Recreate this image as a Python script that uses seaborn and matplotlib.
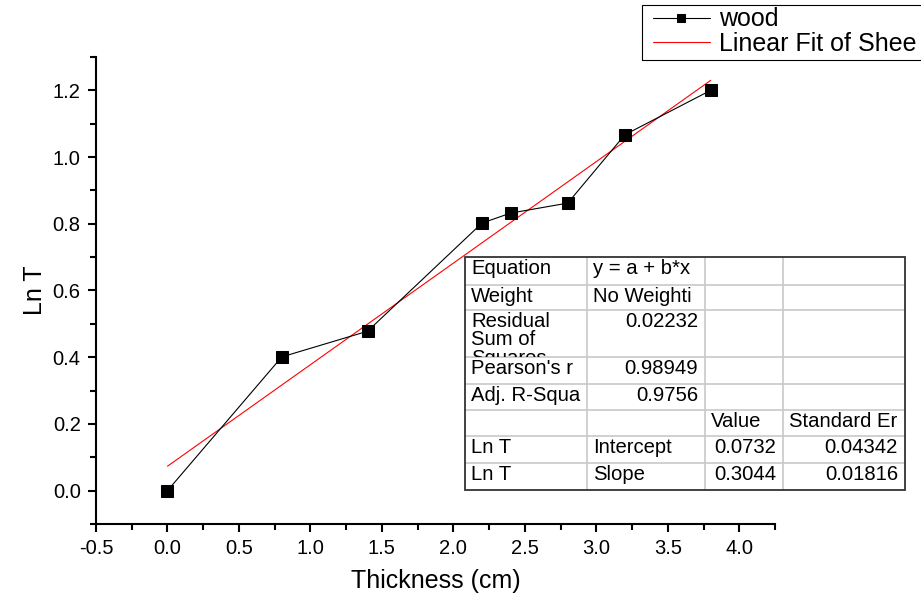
import matplotlib
matplotlib.use("Agg")
import matplotlib.pyplot as plt
import seaborn as sns
import pandas as pd
import numpy as np
from matplotlib.patches import Rectangle

thickness = [0.0, 0.8, 1.4, 2.2, 2.4, 2.8, 3.2, 3.8]
ln_t = [0.0, 0.401, 0.478, 0.802, 0.832, 0.862, 1.067, 1.200]
fit_intercept = 0.0732
fit_slope = 0.3044
fit_x = [0.0, 3.8]

table_rows = [
    ["Equation", "y = a + b*x", "", ""],
    ["Weight", "No Weighti", "", ""],
    ["Residual\nSum of\nSquares", "0.02232", "", ""],
    ["Pearson's r", "0.98949", "", ""],
    ["Adj. R-Squa", "0.9756", "", ""],
    ["", "", "Value", "Standard Er"],
    ["Ln T", "Intercept", "0.0732", "0.04342"],
    ["Ln T", "Slope", "0.3044", "0.01816"],
]

sns.set_style("ticks")
plt.rcParams['font.family'] = ['Liberation Sans', 'DejaVu Sans']

W, H = 921, 596
fig = plt.figure(figsize=(W / 100, H / 100), dpi=100)
ax = fig.add_axes([96 / W, 1 - 524 / H, (775 - 96) / W, (524 - 57) / H])

df = pd.DataFrame({"x": thickness, "y": ln_t})
fit_df = pd.DataFrame({"x": fit_x, "y": [fit_intercept + fit_slope * v for v in fit_x]})

sns.lineplot(data=fit_df, x="x", y="y", ax=ax, color="red", linewidth=0.8,
             label="Linear Fit of Shee", zorder=2)
sns.lineplot(data=df, x="x", y="y", ax=ax, color="black", linewidth=0.8,
             marker="s", markersize=8, markeredgecolor="black", markerfacecolor="black",
             label="wood", zorder=3)

ax.set_xlim(-0.5, 4.25)
ax.set_ylim(-0.1, 1.3)
ax.set_xticks(np.arange(-0.5, 4.01, 0.5))
ax.set_xticks(np.arange(-0.25, 4.26, 0.5), minor=True)
ax.set_yticks(np.arange(0.0, 1.21, 0.2))
ax.set_yticks(np.arange(-0.1, 1.31, 0.2), minor=True)
ax.xaxis.set_major_formatter(matplotlib.ticker.FormatStrFormatter("%.1f"))
ax.yaxis.set_major_formatter(matplotlib.ticker.FormatStrFormatter("%.1f"))
ax.tick_params(axis="both", which="major", direction="out", length=6, width=1.5,
               labelsize=14.5, color="black", labelcolor="black", pad=5)
ax.tick_params(axis="both", which="minor", direction="out", length=4, width=1.5, color="black")
for s in ["top", "right"]:
    ax.spines[s].set_visible(False)
for s in ["left", "bottom"]:
    ax.spines[s].set_linewidth(1.5)
    ax.spines[s].set_color("black")
ax.set_xlabel("Thickness (cm)", fontsize=18, labelpad=8, color="black")
ax.set_ylabel("Ln T", fontsize=18, labelpad=4, color="black")


def fx(px):
    return px / W


def fy(py):
    return 1 - py / H


handles, labels = ax.get_legend_handles_labels()
order = [labels.index("wood"), labels.index("Linear Fit of Shee")]
leg = ax.legend([handles[i] for i in order], [labels[i] for i in order],
                loc="upper left", bbox_to_anchor=(fx(650), fy(5)),
                bbox_transform=fig.transFigure, frameon=False,
                fontsize=18, handlelength=2.3, borderpad=0.1,
                labelspacing=0.02, handletextpad=0.35, borderaxespad=0,
                markerscale=0.8)
for t in leg.get_texts():
    t.set_color("black")
fig.add_artist(Rectangle((fx(642), fy(60)), fx(940) - fx(642), fy(5) - fy(60),
                         transform=fig.transFigure, fill=False, edgecolor="black",
                         linewidth=0.8, zorder=4))

# Fit result table drawn in figure pixel coordinates
col_x = [465, 587, 705, 783, 905]
row_y = [257, 285, 310, 357, 384, 410, 436, 463, 490]

fig.add_artist(Rectangle((fx(col_x[0]), fy(row_y[-1])), fx(col_x[-1]) - fx(col_x[0]),
                         fy(row_y[0]) - fy(row_y[-1]), transform=fig.transFigure,
                         fill=True, facecolor="white", edgecolor="none", zorder=5))
for xi in col_x[1:-1]:
    fig.add_artist(plt.Line2D([fx(xi), fx(xi)], [fy(row_y[0]), fy(row_y[-1])],
                              color="#c8c8c8", linewidth=1.2, transform=fig.transFigure,
                              zorder=6))
for yi in row_y[1:-1]:
    fig.add_artist(plt.Line2D([fx(col_x[0]), fx(col_x[-1])], [fy(yi), fy(yi)],
                              color="#c8c8c8", linewidth=1.2, transform=fig.transFigure,
                              zorder=6))
fig.add_artist(Rectangle((fx(col_x[0]), fy(row_y[-1])), fx(col_x[-1]) - fx(col_x[0]),
                         fy(row_y[0]) - fy(row_y[-1]), transform=fig.transFigure,
                         fill=False, edgecolor="#333333", linewidth=1.3, zorder=7))

right_cells = {(2, 1), (3, 1), (4, 1), (6, 2), (6, 3), (7, 2), (7, 3)}
for r, row in enumerate(table_rows):
    for c, txt in enumerate(row):
        if not txt:
            continue
        x0, x1 = col_x[c], col_x[c + 1]
        y0, y1 = row_y[r], row_y[r + 1]
        if (r, c) in right_cells:
            tx, ha = fx(x1 - 7), "right"
        else:
            tx, ha = fx(x0 + 6), "left"
        t = fig.text(tx, fy(y0 + 2), txt, ha=ha, va="top", fontsize=14.6,
                     color="black", linespacing=0.95, transform=fig.transFigure, zorder=8)
        clip = Rectangle((fx(x0), fy(y1)), fx(x1) - fx(x0), fy(y0) - fy(y1),
                         transform=fig.transFigure)
        t.set_clip_path(clip)
        t.set_clip_on(True)

fig.savefig("out.png", dpi=100)
